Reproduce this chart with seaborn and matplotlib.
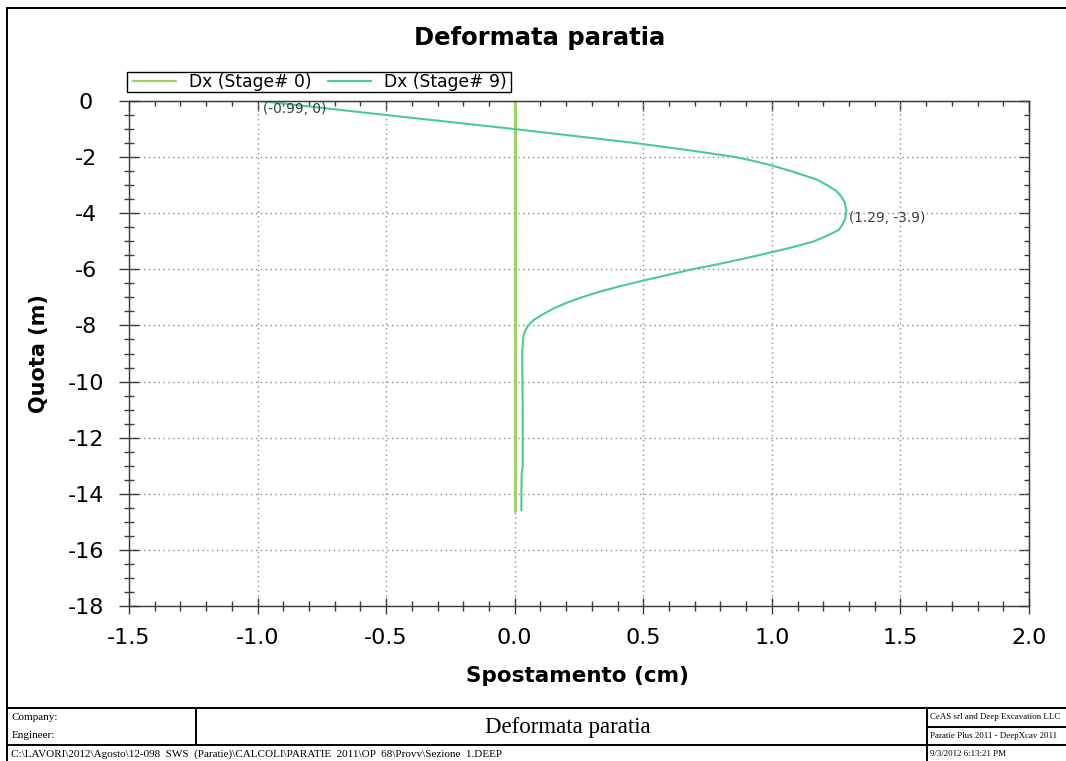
import matplotlib
matplotlib.use("Agg")
import matplotlib.pyplot as plt
import numpy as np
import pandas as pd
import seaborn as sns
from matplotlib.lines import Line2D
from matplotlib.patches import Rectangle
from matplotlib.ticker import MultipleLocator

# ---------------- data ----------------
series_labels = ["Dx (Stage# 0)", "Dx (Stage# 9)"]
series_colors = ["#9dd262", "#48cc92"]

stage0_y = [0.0, -14.6]
stage0_x = [0.0, 0.0]

stage9_y = [0.0, -0.5, -1.0, -1.5, -1.75, -2.0, -2.15, -2.3, -2.5, -2.8, -3.0, -3.2,
            -3.4, -3.6, -3.9, -4.2, -4.4, -4.6, -4.8, -5.0, -5.2, -5.4, -5.6, -5.8,
            -6.0, -6.2, -6.4, -6.6, -6.8, -7.0, -7.2, -7.4, -7.6, -7.8, -8.0, -8.2,
            -8.4, -8.7, -9.0, -10.0, -11.0, -12.0, -13.0, -13.3, -14.0, -14.6]
stage9_x = [-0.99, -0.50, 0.00, 0.47, 0.675, 0.86, 0.935, 1.00, 1.075, 1.175, 1.215, 1.25,
            1.27, 1.283, 1.29, 1.285, 1.275, 1.26, 1.215, 1.165, 1.085, 0.995, 0.90, 0.80,
            0.69, 0.595, 0.50, 0.41, 0.33, 0.26, 0.20, 0.15, 0.11, 0.075, 0.052, 0.04,
            0.034, 0.031, 0.029, 0.030, 0.031, 0.031, 0.031, 0.027, 0.026, 0.026]

x_ticks = [-1.5, -1.0, -0.5, 0.0, 0.5, 1.0, 1.5, 2.0]
x_ticklabels = ["-1.5", "-1.0", "-0.5", "0.0", "0.5", "1.0", "1.5", "2.0"]
y_ticks = [0, -2, -4, -6, -8, -10, -12, -14, -16, -18]
y_ticklabels = ["0", "-2", "-4", "-6", "-8", "-10", "-12", "-14", "-16", "-18"]

annot_x = [-0.99, 1.29]
annot_y = [0.0, -3.9]
annot_text = ["(-0.99, 0)", "(1.29, -3.9)"]

title = "Deformata paratia"
xlabel = "Spostamento (cm)"
ylabel = "Quota (m)"

footer_company = "Company:"
footer_engineer = "Engineer:"
footer_title = "Deformata paratia"
footer_path = r"C:\LAVORI\2012\Agosto\12-098  SWS  (Paratie)\CALCOLI\PARATIE  2011\OP  68\Provv\Sezione  1.DEEP"
footer_r1 = "CeAS srl and Deep Excavation LLC"
footer_r2 = "Paratie Plus 2011 - DeepXcav 2011"
footer_r3 = "9/3/2012 6:13:21 PM"

# ---------------- style ----------------
sns.set_style("ticks")
plt.rcParams["font.family"] = ["DejaVu Sans"]
plt.rcParams["axes.unicode_minus"] = False
plt.rcParams["text.color"] = "black"
plt.rcParams["axes.labelcolor"] = "black"

W, H = 1066, 761
fig = plt.figure(figsize=(W / 100, H / 100), dpi=100)
fig.patch.set_facecolor("white")

def fx(px):
    return px / W

def fy(py):
    return 1 - py / H

ax_l, ax_r, ax_t, ax_b = 129, 1029, 101, 606
ax = fig.add_axes([fx(ax_l), fy(ax_b), (ax_r - ax_l) / W, (ax_b - ax_t) / H])

df = pd.DataFrame({
    "x": stage0_x + stage9_x,
    "y": stage0_y + stage9_y,
    "series": [series_labels[0]] * len(stage0_x) + [series_labels[1]] * len(stage9_x),
})
palette = dict(zip(series_labels, series_colors))
sns.lineplot(data=df, x="x", y="y", hue="series", palette=palette, sort=False,
             estimator=None, legend=False, ax=ax, linewidth=1.5)
ax.lines[0].set_linewidth(2.2)
for ln in ax.lines:
    ln.set_solid_joinstyle("round")

ax.set_xlim(-1.5, 2.0)
ax.set_ylim(-18, 0)
ax.set_xticks(x_ticks)
ax.set_xticklabels(x_ticklabels)
ax.set_yticks(y_ticks)
ax.set_yticklabels(y_ticklabels)
ax.xaxis.set_minor_locator(MultipleLocator(0.1))
ax.yaxis.set_minor_locator(MultipleLocator(0.5))

ax.grid(True, which="major", linestyle=(0, (1, 2.5)), color="#8a8a8a", linewidth=1.0)
ax.set_axisbelow(True)

spine_color = "#3a3a3a"
for s in ax.spines.values():
    s.set_visible(True)
    s.set_color(spine_color)
    s.set_linewidth(1.0)

ax.tick_params(axis="x", which="major", direction="inout", length=11.5, width=1.0,
               color=spine_color, labelcolor="black", labelsize=16, pad=10, top=False)
ax.tick_params(axis="x", which="minor", direction="inout", length=6.5, width=1.0,
               color=spine_color, top=False)
ax.tick_params(axis="y", which="major", direction="inout", length=14, width=1.0,
               color=spine_color, labelcolor="black", labelsize=16, pad=24, right=False)
ax.tick_params(axis="y", which="minor", direction="inout", length=7, width=1.0,
               color=spine_color, right=False)
for lab in ax.get_yticklabels():
    lab.set_horizontalalignment("center")

# top / right ticks pointing inwards
secx = ax.secondary_xaxis("top")
secx.set_xticks(x_ticks)
secx.xaxis.set_minor_locator(MultipleLocator(0.1))
secx.tick_params(which="major", direction="in", length=7, width=1.0, color=spine_color, labeltop=False)
secx.tick_params(which="minor", direction="in", length=3.6, width=1.0, color=spine_color)
secx.spines["top"].set_color(spine_color)

secy = ax.secondary_yaxis("right")
secy.set_yticks(y_ticks)
secy.yaxis.set_minor_locator(MultipleLocator(0.5))
secy.tick_params(which="major", direction="in", length=7, width=1.0, color=spine_color, labelright=False)
secy.tick_params(which="minor", direction="in", length=3.6, width=1.0, color=spine_color)
secy.spines["right"].set_color(spine_color)

ax.set_xlabel(xlabel, fontsize=15.5, fontweight="bold")
ax.set_ylabel(ylabel, fontsize=15, fontweight="bold")
ax.xaxis.set_label_coords((578 - ax_l) / (ax_r - ax_l), (ax_b - 676) / (ax_b - ax_t))
ax.xaxis.label.set_va("center")
ax.yaxis.set_label_coords((39 - ax_l) / (ax_r - ax_l), 0.5)
ax.yaxis.label.set_va("center")

# annotations
for xv, yv, t in zip(annot_x, annot_y, annot_text):
    ax.annotate(t, xy=(xv, yv), xytext=(3, -1), textcoords="offset pixels",
                ha="left", va="top", fontsize=9.8, color="#3c3c4c")

# legend (frame drawn separately to match the reference box)
handles = [Line2D([0], [0], color=c, lw=1.6) for c in series_colors]
leg = ax.legend(handles, series_labels, ncol=2, loc="center left",
                bbox_to_anchor=((133 - ax_l) / (ax_r - ax_l), (ax_b - 82) / (ax_b - ax_t)),
                borderaxespad=0, frameon=False, fontsize=12.3,
                handlelength=2.5, handletextpad=0.75, columnspacing=1.0,
                borderpad=0.0)
fig.add_artist(Rectangle((fx(127), fy(92)), (511 - 127) / W, 20 / H,
                         transform=fig.transFigure, fill=False, edgecolor="black", lw=1.0))

# title
fig.text(fx(540), fy(38), title, ha="center", va="center", fontsize=17.5, fontweight="bold",
         color="black")

# ---------------- outer frame & footer table ----------------
lc = "black"
lw = 1.4
def hline(y, x0, x1):
    fig.add_artist(Line2D([fx(x0), fx(x1)], [fy(y), fy(y)], color=lc, lw=lw))
def vline(x, y0, y1):
    fig.add_artist(Line2D([fx(x), fx(x)], [fy(y0), fy(y1)], color=lc, lw=lw))

hline(8, 7, W + 5)
vline(7, 8, H + 5)
hline(708, 7, W + 5)
hline(745, 7, W + 5)
hline(727, 927, W + 5)
vline(196, 708, 745)
vline(927, 708, H + 5)

serif = ["Liberation Serif", "DejaVu Serif"]
fig.text(fx(12), fy(717), footer_company, ha="left", va="center", fontsize=8, family=serif)
fig.text(fx(12), fy(736), footer_engineer, ha="left", va="center", fontsize=8, family=serif)
fig.text(fx(568), fy(728), footer_title, ha="center", va="center", fontsize=16.5, family=serif)
fig.text(fx(11), fy(754), footer_path, ha="left", va="center", fontsize=8, family=serif)
fig.text(fx(930), fy(717), footer_r1, ha="left", va="center", fontsize=6.4, family=serif)
fig.text(fx(930), fy(736), footer_r2, ha="left", va="center", fontsize=6.4, family=serif)
fig.text(fx(930), fy(754), footer_r3, ha="left", va="center", fontsize=6.4, family=serif)

fig.savefig("out.png", dpi=100, facecolor="white")
